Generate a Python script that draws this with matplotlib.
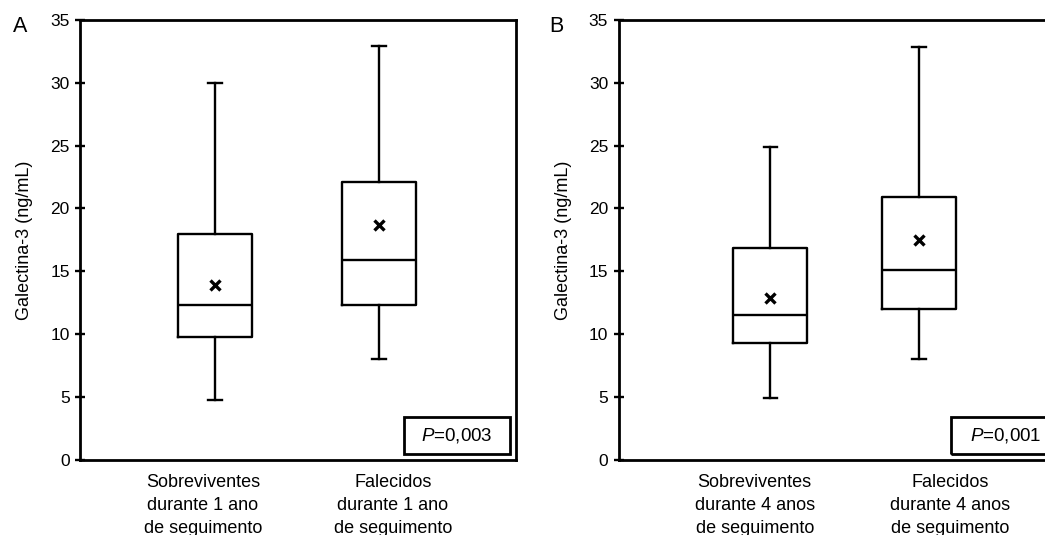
import matplotlib
matplotlib.use("Agg")
import matplotlib.pyplot as plt
from matplotlib.patches import Rectangle

plt.rcParams['font.family'] = ['Liberation Sans', 'DejaVu Sans']
plt.rcParams['mathtext.fontset'] = 'custom'
plt.rcParams['mathtext.rm'] = 'Liberation Sans'
plt.rcParams['mathtext.it'] = 'Liberation Sans:italic'

# --- dados ---
rotulos_a = ["Sobreviventes\ndurante 1 ano\nde seguimento", "Falecidos\ndurante 1 ano\nde seguimento"]
rotulos_b = ["Sobreviventes\ndurante 4 anos\nde seguimento", "Falecidos\ndurante 4 anos\nde seguimento"]

# ordem: sobreviventes, falecidos
whislo_a = [4.8, 8.0]
q1_a = [9.75, 12.35]
med_a = [12.3, 15.9]
q3_a = [17.95, 22.1]
whishi_a = [30.0, 32.9]
media_a = [13.9, 18.7]

whislo_b = [4.9, 8.0]
q1_b = [9.3, 12.0]
med_b = [11.5, 15.15]
q3_b = [16.85, 20.9]
whishi_b = [24.9, 32.8]
media_b = [12.9, 17.5]

p_a = "$P$=0,003"
p_b = "$P$=0,001"
yticks = [0, 5, 10, 15, 20, 25, 30, 35]


def monta_stats(wl, q1, med, q3, wh, mu):
    return [dict(whislo=wl[i], q1=q1[i], med=med[i], q3=q3[i], whishi=wh[i],
                 mean=mu[i], fliers=[]) for i in range(len(med))]


def desenha(ax, stats, rotulos, pos_rotulos, xlim, largura, ptexto, letra):
    lp = dict(color='black', linewidth=1.7)
    ax.bxp(stats, positions=[1, 2], widths=largura, capwidths=0.09, showmeans=True,
           showfliers=False, boxprops=lp, whiskerprops=lp, capprops=lp, medianprops=lp,
           meanprops=dict(marker='x', markersize=7.5, markeredgewidth=2.4,
                          markeredgecolor='black', markerfacecolor='black'),
           manage_ticks=False)
    ax.set_xlim(*xlim)
    ax.set_ylim(0, 35)
    ax.set_yticks(yticks)
    ax.tick_params(axis='y', direction='inout', length=7, width=1.7, labelsize=12.5, pad=4)
    ax.set_xticks(pos_rotulos)
    ax.set_xticklabels(rotulos, fontsize=13, linespacing=1.45)
    ax.tick_params(axis='x', length=0, pad=10)
    for s in ax.spines.values():
        s.set_linewidth(2.0)
    ax.set_ylabel("Galectina-3 (ng/mL)", fontsize=13, labelpad=12)
    ax.add_patch(Rectangle((0.744, 0.014), 0.243, 0.084, transform=ax.transAxes,
                           fill=False, edgecolor='black', linewidth=2.0, zorder=5))
    ax.text(0.8655, 0.056, ptexto, transform=ax.transAxes, ha='center', va='center', fontsize=13.5)
    ax.text(-0.155, 0.985, letra, transform=ax.transAxes, ha='left', va='center', fontsize=15.5)


fig = plt.figure(figsize=(10.45, 5.35), dpi=100)
ax_a = fig.add_axes([0.0766, 0.140, 0.417, 0.823])
ax_b = fig.add_axes([0.592, 0.140, 0.428, 0.823])

desenha(ax_a, monta_stats(whislo_a, q1_a, med_a, q3_a, whishi_a, media_a),
        rotulos_a, [0.927, 2.085], (0.177, 2.835), 0.45, p_a, "A")
desenha(ax_b, monta_stats(whislo_b, q1_b, med_b, q3_b, whishi_b, media_b),
        rotulos_b, [0.895, 2.21], (-0.021, 2.99), 0.5, p_b, "B")

fig.savefig("out.png", dpi=100, facecolor='white')
